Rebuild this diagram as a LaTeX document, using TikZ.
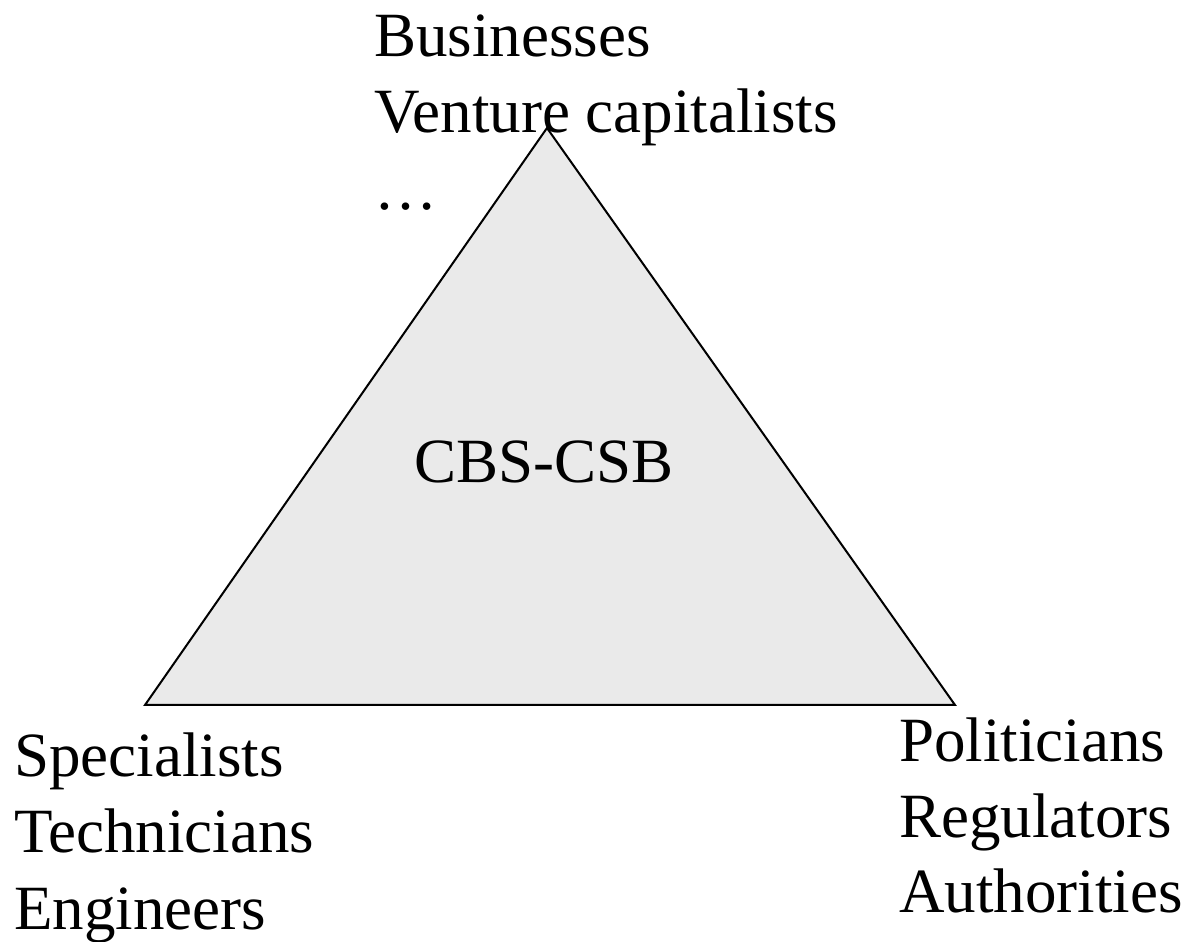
\documentclass[tikz,border=0pt]{standalone}
\usepackage{fontspec}
\setmainfont{Liberation Serif}
\definecolor{trifill}{HTML}{EAEAEA}
\begin{document}
\begin{tikzpicture}[x=1pt,y=1pt,
  lbl/.style={anchor=base west,inner sep=0pt,font=\fontsize{63}{76}\selectfont},
  tri/.style={draw=black,line width=2pt,fill=trifill,line join=miter}]
\useasboundingbox (0,0) rectangle (1191,942);
\coordinate (top) at (547,814);
\coordinate (bl) at (145,237);
\coordinate (br) at (955,237);
\filldraw[tri] (top) -- (bl) -- (br) -- cycle;
\node[lbl] (cbs) at (414,459) {CBS-CSB};
\node[lbl] (b1) at (374,885) {Businesses};
\node[lbl] (b2) at (374,809) {Venture capitalists};
\node[lbl] (b3) at (374,732) {\dots};
\node[lbl] (s1) at (14,165) {Specialists};
\node[lbl] (s2) at (14,89) {Technicians};
\node[lbl] (s3) at (14,12) {Engineers};
\node[lbl] (p1) at (899,180) {Politicians};
\node[lbl] (p2) at (899,104) {Regulators};
\node[lbl] (p3) at (899,29) {Authorities};
\end{tikzpicture}
\end{document}
